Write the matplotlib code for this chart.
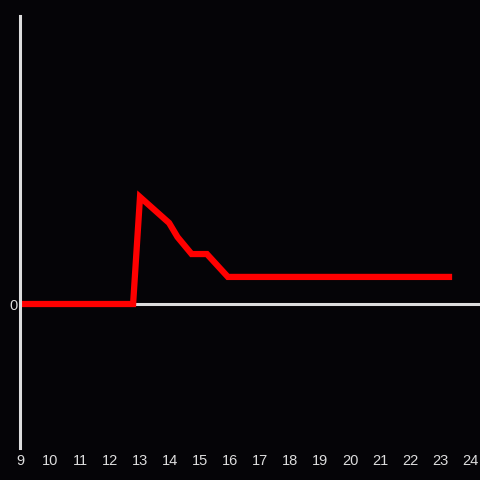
import matplotlib
matplotlib.use('Agg')
import matplotlib.pyplot as plt

hours = [9, 12.77, 13.0, 13.97, 14.25, 14.72, 15.23, 15.93, 23.3]
values = [0, 0, 0.743, 0.563, 0.465, 0.347, 0.347, 0.188, 0.188]
x_ticks = list(range(9, 25))

bg = '#050407'
fg = '#dddddd'

fig = plt.figure(figsize=(4.8, 4.8), dpi=100, facecolor=bg)
ax = fig.add_axes([20 / 480, 32 / 480, 460 / 480, 432 / 480])
ax.set_facecolor(bg)

ax.axhline(0, color=fg, linewidth=2.2, zorder=1)
ax.plot(hours, values, color='#ff0000', linewidth=4.5, solid_joinstyle='miter', zorder=2)

ax.set_xlim(9, 9 + 460 / 30)
ax.set_ylim(-1, 2)
ax.set_xticks(x_ticks)
ax.set_xticklabels([str(t) for t in x_ticks])
ax.set_yticks([0])
ax.set_yticklabels(['0'])

for side in ['top', 'right', 'bottom']:
    ax.spines[side].set_visible(False)
ax.spines['left'].set_color(fg)
ax.spines['left'].set_linewidth(2.2)

ax.tick_params(axis='both', length=0, colors=fg, labelsize=10.5)
ax.tick_params(axis='x', pad=4.5)
ax.tick_params(axis='y', pad=2)
for lab in ax.get_xticklabels() + ax.get_yticklabels():
    lab.set_fontfamily('Liberation Sans')

fig.savefig('out.png', dpi=100, facecolor=bg)
